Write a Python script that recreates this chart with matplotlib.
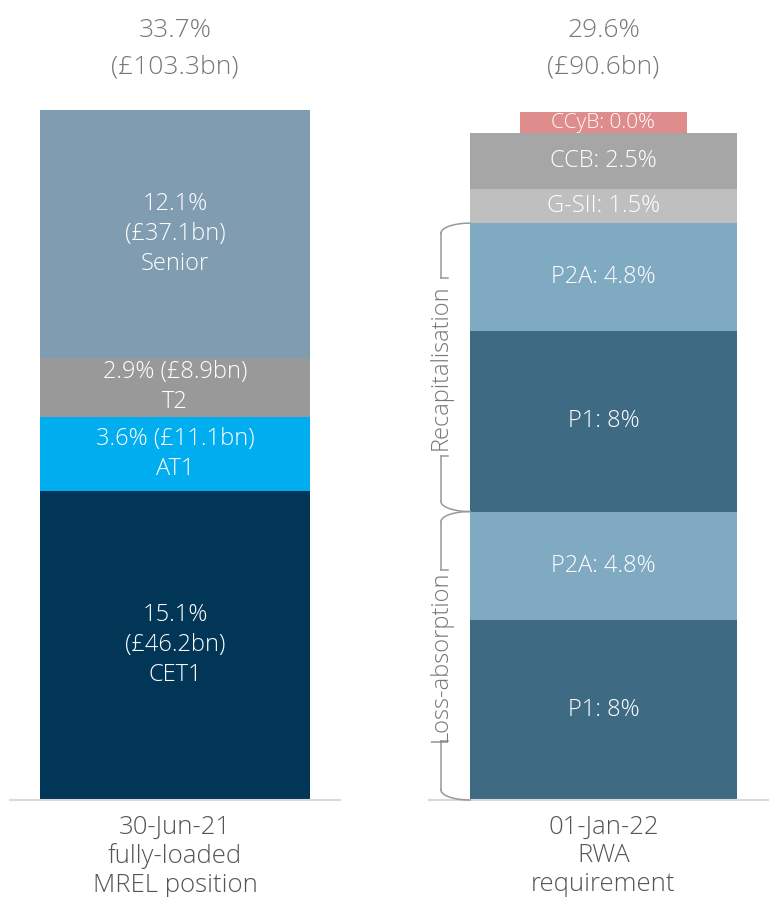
import numpy as np
import matplotlib
matplotlib.use("Agg")
import matplotlib.pyplot as plt
from matplotlib.transforms import blended_transform_factory

plt.rcParams['font.family'] = ['Open Sans', 'DejaVu Sans']

# left bar: fully-loaded MREL position (bottom -> top)
mrel_names = ["CET1", "AT1", "T2", "Senior"]
mrel_pct = [15.1, 3.6, 2.9, 12.1]
mrel_labels = ["15.1%\n(£46.2bn)\nCET1", "3.6% (£11.1bn)\nAT1",
               "2.9% (£8.9bn)\nT2", "12.1%\n(£37.1bn)\nSenior"]
mrel_colors = ["#013657", "#00aeef", "#999999", "#7f9cb0"]
mrel_total = "33.7%\n(£103.3bn)"
mrel_date = "30-Jun-21\nfully-loaded\nMREL position"

# right bar: RWA requirement (bottom -> top)
req_names = ["P1", "P2A", "P1", "P2A", "G-SII", "CCB"]
req_pct = [8, 4.8, 8, 4.8, 1.5, 2.5]
req_labels = ["P1: 8%", "P2A: 4.8%", "P1: 8%", "P2A: 4.8%", "G-SII: 1.5%", "CCB: 2.5%"]
req_colors = ["#3e6a84", "#80a9c2", "#3e6a84", "#80a9c2", "#bfbfbf", "#a6a6a6"]
ccyb_pct = 0.0
ccyb_label = "CCyB: 0.0%"
req_total = "29.6%\n(£90.6bn)"
req_date = "01-Jan-22\nRWA\nrequirement"

brackets = [("Loss-absorption", 0, 12.8), ("Recapitalisation", 12.8, 25.6)]

W, H = 769, 897
fig = plt.figure(figsize=(W / 100, H / 100), dpi=100)

def px_axes(x0, x1, ytop, ybot):
    return fig.add_axes([x0 / W, 1 - ybot / H, (x1 - x0) / W, (ybot - ytop) / H])

txt_grey = "#777777"
lbl = dict(color="white", ha="center", va="center", fontsize=17, linespacing=1.33,
           fontweight="light")

def head_foot(ax, total, date):
    tr = blended_transform_factory(ax.transData, ax.transAxes)
    ax.text(0, 1.089, total, transform=tr, ha="center", va="center", fontsize=19,
            color=txt_grey, linespacing=1.62, fontweight="light")
    ax.text(0, -0.021, date, transform=tr, ha="center", va="top", fontsize=18.5,
            color="#555555", linespacing=1.2, fontweight="light")
    ax.axhline(0, color="#d9d9d9", lw=1.5, clip_on=False)

# ---- left
axL = px_axes(10, 340, 110, 800)
axL.set_xlim(-0.5, 0.5)
axL.set_ylim(0, sum(mrel_pct))
bottoms = np.concatenate([[0], np.cumsum(mrel_pct)[:-1]])
axL.bar(0, mrel_pct, bottom=bottoms, width=0.818, color=mrel_colors, linewidth=0)
for b, v, t in zip(bottoms, mrel_pct, mrel_labels):
    axL.text(0, b + v / 2, t, **lbl)
head_foot(axL, mrel_total, mrel_date)
axL.axis("off")

# ---- right
axR = px_axes(429, 769, 110, 800)
axR.set_xlim(-0.6536, 0.6199)
ccyb_h = 0.93  # drawn as a thin box even though the value is zero
axR.set_ylim(0, sum(req_pct) + ccyb_h + 0.09)
rb = np.concatenate([[0], np.cumsum(req_pct)[:-1]])
axR.bar(0, req_pct, bottom=rb, width=1.0, color=req_colors, linewidth=0)
for b, v, t in zip(rb, req_pct, req_labels):
    axR.text(0, b + v / 2, t, **lbl)
top = sum(req_pct)
axR.bar(0, ccyb_pct + ccyb_h, bottom=top, width=0.625, color="#de8c8c", linewidth=0)
axR.text(0, top + ccyb_h / 2, ccyb_label, color="white", ha="center", va="center",
         fontsize=15, fontweight="light")
head_foot(axR, req_total, req_date)

# brackets
bx, ex = -0.609, -0.5
ry = 0.45
lc = dict(color="#999999", lw=1.1, clip_on=False)
th = np.linspace(0, np.pi / 2, 20)
cx = bx + (ex - bx) * (1 - np.cos(th))
for (name, y0, y1), gap in zip(brackets, [3.8, 3.95]):
    mid = (y0 + y1) / 2
    axR.plot(cx, y1 - ry * (1 - np.sin(th)), **lc)
    axR.plot(cx, y0 + ry * (1 - np.sin(th)), **lc)
    axR.plot([bx, bx], [y1 - ry * 0.999, mid + gap], **lc)
    axR.plot([bx, bx], [y0 + ry * 0.999, mid - gap], **lc)
    axR.plot([bx, bx + 0.025], [mid + gap] * 2, **lc)
    axR.plot([bx, bx + 0.025], [mid - gap] * 2, **lc)
    axR.text(bx, mid, name, rotation=90, ha="center", va="center", fontsize=17,
             color=txt_grey, fontweight="light")
axR.axis("off")

fig.savefig("out.png", dpi=100, facecolor="white")
